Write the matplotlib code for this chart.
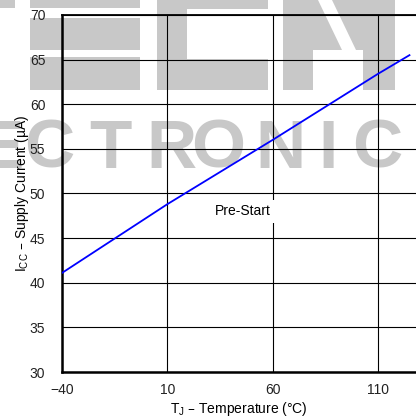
import matplotlib
matplotlib.use("Agg")
import matplotlib.pyplot as plt
from matplotlib.patches import Polygon

# Data
temps = [-40, 10, 60, 110, 125]
icc = [41.1, 48.8, 56.0, 63.4, 65.5]
xticks = [-40, 10, 60, 110]
xtick_labels = ["\u221240", "10", "60", "110"]
yticks = [30, 35, 40, 45, 50, 55, 60, 65, 70]
ytick_labels = [str(v) for v in yticks]

# watermark letters (second line of the background logo)
wm_letters = list("ECTRONIC")
wm_centers_px = [1, 49, 110, 171, 218, 280, 328, 377]

plt.rcParams['font.family'] = ['Liberation Sans', 'DejaVu Sans']

W, H = 416, 418
fig = plt.figure(figsize=(W / 100, H / 100), dpi=100)
fig.patch.set_facecolor('white')

wm_color = '#c8c8c8'


def fpt(x, y):
    return (x / W, 1 - y / H)


def poly(pts, color):
    fig.add_artist(Polygon([fpt(x, y) for x, y in pts], closed=True,
                           transform=fig.transFigure, facecolor=color,
                           edgecolor='none', zorder=-5))


def rect(x0, y0, x1, y1, color=wm_color):
    poly([(x0, y0), (x1, y0), (x1, y1), (x0, y1)], color)


# top logo fragments (cut at image top)
rect(0, 0, 15, 8)
rect(30, 0, 140, 8)
rect(30, 18, 140, 50)
rect(30, 57, 140, 90)
rect(157, 0, 268, 9)
rect(157, 0, 187, 90)
rect(157, 59, 268, 90)
rect(283, 0, 313, 90)
rect(363, 0, 395, 90)
rect(313, 0, 363, 50)
poly([(318, 0), (332, 0), (356, 50), (342, 50)], 'white')

for ch, xc in zip(wm_letters, wm_centers_px):
    fig.text(xc / W, 1 - 168 / H, ch, color=wm_color, fontsize=50,
             fontweight='bold', ha='center', va='baseline', zorder=-5,
             family='Liberation Sans')

ax = fig.add_axes([62 / W, 1 - 372 / H, 1 - 62 / W, (372 - 15) / H])
ax.set_facecolor('none')

ax.plot(temps, icc, color='#0000ff', lw=1.3, zorder=3)

ax.set_xlim(-40, 128.1)
ax.set_ylim(30, 70)
ax.set_xticks(xticks)
ax.set_xticklabels(xtick_labels)
ax.set_yticks(yticks)
ax.set_yticklabels(ytick_labels)
ax.tick_params(axis='both', length=0, labelsize=10, colors='#222222')
ax.tick_params(axis='y', pad=12)
ax.tick_params(axis='x', pad=8)

ax.grid(True, color='black', lw=0.8)
ax.set_axisbelow(True)

for s in ['left', 'bottom']:
    ax.spines[s].set_linewidth(1.8)
ax.spines['top'].set_linewidth(1.3)
ax.spines['right'].set_visible(False)

ax.text(46, 48, "Pre-Start", fontsize=10, ha='center', va='center',
        bbox=dict(facecolor='white', edgecolor='none', pad=3), zorder=4)

ax.set_xlabel("T$_\\mathregular{J}$ \u2013 Temperature (\u00b0C)", fontsize=10, labelpad=2)
ax.set_ylabel("I$_\\mathregular{CC}$ \u2013 Supply Current (\u00b5A)", fontsize=10)
ax.yaxis.set_label_coords(-0.088, 0.5)

fig.savefig("out.png", dpi=100)
